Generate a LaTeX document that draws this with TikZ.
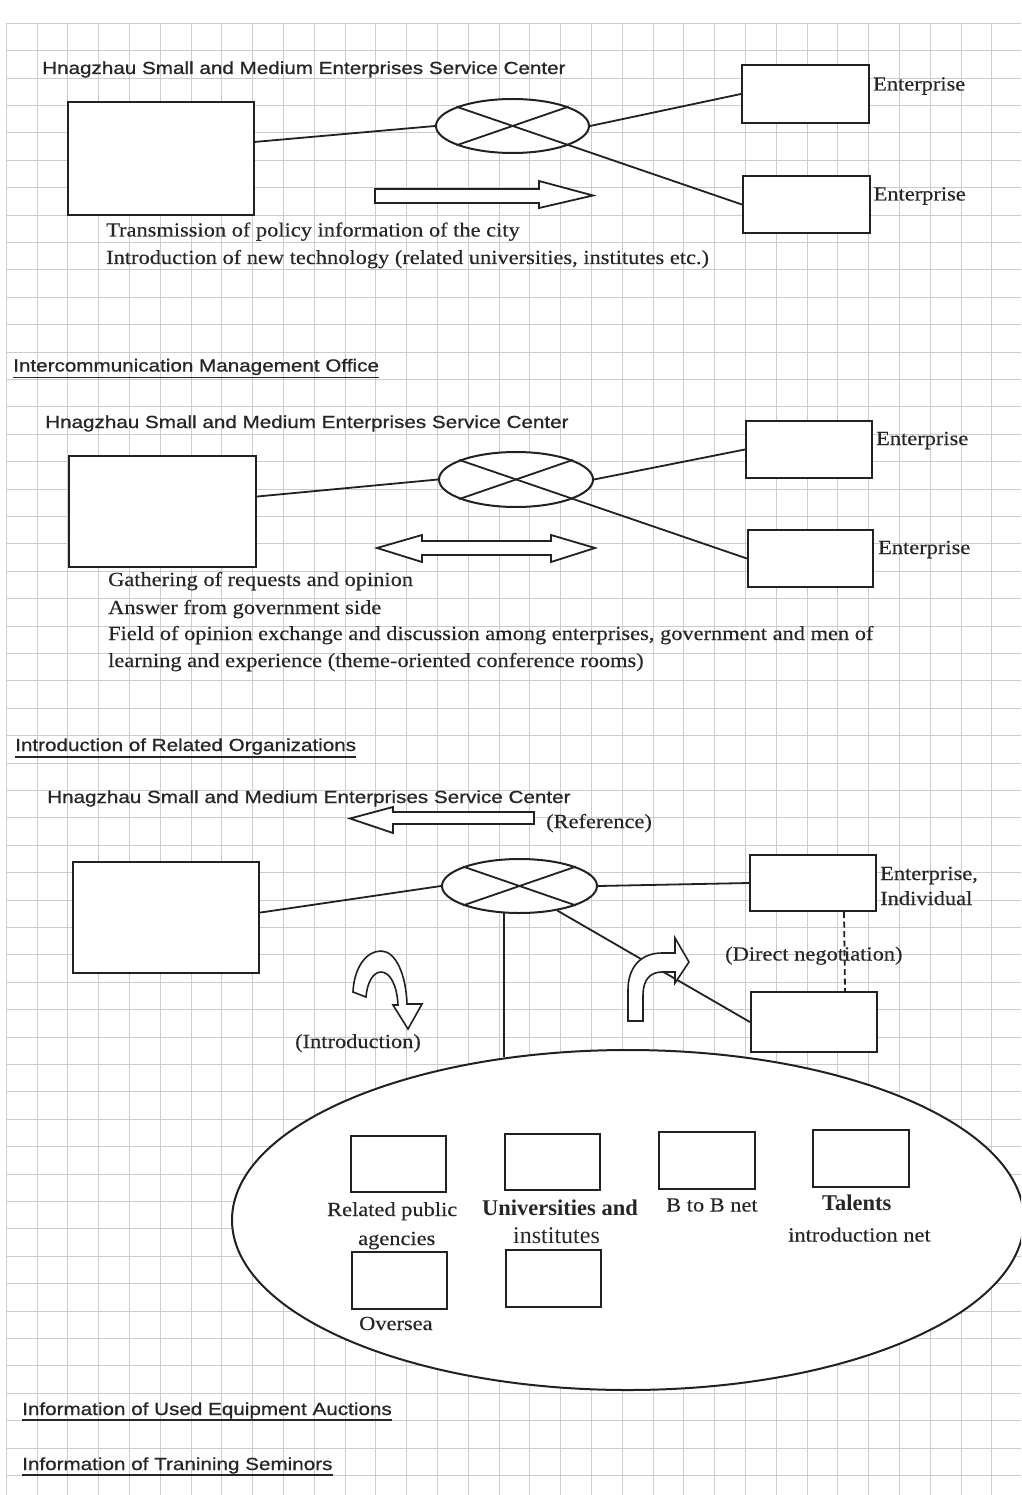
\documentclass[tikz,border=0pt]{standalone}
\usepackage{fontspec}
\setmainfont{Liberation Serif}
\newfontfamily\gothic[FakeStretch=1.18,FakeBold=0.8]{Liberation Sans}
\newfontfamily\mincho[FakeStretch=1.12,FakeBold=0.3]{Liberation Serif}
\newfontfamily\minchoB{Liberation Serif}
\usetikzlibrary{shapes.geometric,calc}
\definecolor{ink}{gray}{0.13}
\definecolor{txt}{gray}{0.15}
\definecolor{gridc}{gray}{0.8}
\begin{document}
\begin{tikzpicture}[x=1pt,y=-1pt,
  box/.style={draw=ink, line width=2.2pt, fill=white, rectangle, inner sep=0},
  ell/.style={draw=ink, line width=2pt, fill=white, ellipse, inner sep=0},
  conn/.style={draw=ink, line width=1.8pt},
  fat/.style={draw=ink, line width=1.8pt, fill=white, line join=miter},
  gt/.style={font=\gothic\fontsize{17.5}{20}\selectfont, text=txt, inner sep=0, anchor=base west},
  mt/.style={font=\mincho\fontsize{20}{24}\selectfont, text=txt, inner sep=0, anchor=base west},
  mtb/.style={font=\minchoB\bfseries\fontsize{22.5}{26}\selectfont, text=txt, inner sep=0, anchor=base west},
  mtl/.style={font=\minchoB\fontsize{24}{28}\selectfont, text=txt, inner sep=0, anchor=base west},
  ul/.style={draw=txt, line width=1.5pt},
  gline/.style={draw=gridc, line width=0.5pt}
]
\useasboundingbox (0,0) rectangle (1021,1495);
\clip (0,0) rectangle (1021,1495);
\fill[white] (0,0) rectangle (1021,1495);
% grid
\foreach \i in {0,...,33} \draw[gline] ({6+30.8*\i},23) -- ({6+30.8*\i},1495);
\foreach \j in {0,...,54} \draw[gline] (6,{23+27.4*\j}) -- (1021,{23+27.4*\j});

% ---------- Section 1 ----------
\node[gt] (t1) at (42,74) {Hnagzhau Small and Medium Enterprises Service Center};
\node[box, minimum width=186pt, minimum height=113pt] (b1) at (161,158.5) {};
\node[ell, minimum width=153pt, minimum height=54pt] (e1) at (512.5,126) {};
\node[box, minimum width=127pt, minimum height=58pt] (ent1) at (805.5,94) {};
\node[box, minimum width=127pt, minimum height=57pt] (ent2) at (806.5,204.5) {};
\node[mt] (lab1) at (873,90.5) {Enterprise};
\node[mt] (lab2) at (873.5,200.5) {Enterprise};
\draw[conn] (b1.10) -- (e1.west);
\draw[conn] (e1.east) -- (ent1.west);
\draw[conn] (e1.161) -- (ent2.west);
\draw[conn] (e1.-161) -- (e1.19);
\draw[fat] (375,189) -- (539,189) -- (539,181) -- (593,195.5) -- (539,208) -- (539,203) -- (375,203) -- cycle;
\node[mt] (tx1) at (106,236.5) {Transmission of policy information of the city};
\node[mt] (tx2) at (106,264) {Introduction of new technology (related universities, institutes etc.)};

% ---------- Section 2 ----------
\node[gt] (h1) at (13,371.5) {Intercommunication Management Office};
\draw[ul] ([yshift=-6pt]h1.base west) -- ([yshift=-6pt]h1.base east);
\node[gt] (t2) at (45,428) {Hnagzhau Small and Medium Enterprises Service Center};
\node[box, minimum width=187pt, minimum height=111pt] (b2) at (162.5,511.5) {};
\node[ell, minimum width=154pt, minimum height=55pt] (e2) at (516,479.5) {};
\node[box, minimum width=126pt, minimum height=57pt] (ent3) at (809,449.5) {};
\node[box, minimum width=125pt, minimum height=57pt] (ent4) at (810.5,558.5) {};
\node[mt] (lab3) at (876,445) {Enterprise};
\node[mt] (lab4) at (878,554) {Enterprise};
\draw[conn] (b2.9) -- (e2.west);
\draw[conn] (e2.east) -- (ent3.west);
\draw[conn] (e2.161) -- (ent4.west);
\draw[conn] (e2.-161) -- (e2.19);
\draw[fat] (377,548) -- (422,535) -- (422,541) -- (551,541) -- (551,535) -- (595,548) -- (551,562) -- (551,555) -- (422,555) -- (422,562) -- cycle;
\node[mt] (tx3) at (108,586) {Gathering of requests and opinion};
\node[mt] (tx4) at (108,614) {Answer from government side};
\node[mt] (tx5) at (108,640) {Field of opinion exchange and discussion among enterprises, government and men of};
\node[mt] (tx6) at (108,667) {learning and experience (theme-oriented conference rooms)};

% ---------- Section 3 ----------
\node[gt] (h2) at (15,751) {Introduction of Related Organizations};
\draw[ul] ([yshift=-6pt]h2.base west) -- ([yshift=-6pt]h2.base east);
\node[gt] (t3) at (47,803) {Hnagzhau Small and Medium Enterprises Service Center};
\draw[fat] (534,812) -- (534,824) -- (393,824) -- (393,833) -- (350,818.5) -- (393,807) -- (393,812) -- cycle;
\node[mt] (ref) at (546,828) {(Reference)};
\node[ell, minimum width=792pt, minimum height=340pt] (bigE) at (628,1220) {};
\node[box, minimum width=186pt, minimum height=111pt] (b3) at (166,917.5) {};
\node[ell, minimum width=155pt, minimum height=54pt] (e3) at (519.5,886) {};
\node[box, minimum width=126pt, minimum height=56pt] (ent5) at (813,883) {};
\node[box, minimum width=126pt, minimum height=60pt] (ent6) at (814,1022) {};
\node[mt] (lab5) at (880,880) {Enterprise,};
\node[mt] (lab6) at (880,905) {Individual};
\draw[conn] (b3.3) -- (e3.west);
\draw[conn] (e3.east) -- (ent5.west);
\draw[conn] (e3.161) -- (e3.-19);
\draw[conn] (e3.-161) -- (e3.19);
\draw[conn] (e3.-33) -- (ent6.west);
\coordinate (vt) at (e3.-120);
\coordinate (vb) at (504,1057);
\draw[conn] (vt) -- (vt |- vb);
\draw[conn, dash pattern=on 6pt off 3.5pt] ([xshift=31pt]ent5.south) -- ([xshift=31pt]ent6.north);
% curved arrows
\draw[fat, line width=1.6pt] (353,992) .. controls (354,968) and (366,951) .. (381,951) .. controls (396,951) and (406,975) .. (407,1004) -- (422,1004) -- (408,1029) -- (393,1005) -- (398,1005) .. controls (397,985) and (390,972) .. (381,972) .. controls (373,972) and (367,983) .. (366,997) -- cycle;
\draw[fat, line width=1.6pt] (628,1021) -- (628,990) .. controls (628,968) and (640,953) .. (662,953) -- (675,953) -- (675,938) -- (689,962) -- (675,983) -- (675,972) -- (662,972) .. controls (650,972) and (643,980) .. (643,995) -- (643,1021) -- cycle;
\node[mt] (dn) at (725,960.5) {(Direct negotiation)};
\node[mt] (intro) at (295,1048) {(Introduction)};
% inner boxes
\node[box, minimum width=95pt, minimum height=56pt] (ib1) at (398.5,1164) {};
\node[box, minimum width=95pt, minimum height=56pt] (ib2) at (552.5,1162) {};
\node[box, minimum width=96pt, minimum height=57pt] (ib3) at (707,1160.5) {};
\node[box, minimum width=96pt, minimum height=57pt] (ib4) at (861,1158.5) {};
\node[box, minimum width=95pt, minimum height=57pt] (ib5) at (399.5,1280.5) {};
\node[box, minimum width=95pt, minimum height=57pt] (ib6) at (553.5,1278.5) {};
\node[mt] (l1) at (327,1216) {Related public};
\node[mt] (l2) at (358,1245) {agencies};
\node[mtb] (l3) at (482,1215) {Universities and};
\node[mtl] (l4) at (513,1243) {institutes};
\node[mt] (l5) at (666,1211.5) {B to B net};
\node[mtb] (l6) at (822,1210) {Talents};
\node[mt] (l7) at (788,1241.5) {introduction net};
\node[mt] (l8) at (359,1330) {Oversea};

% ---------- Bottom ----------
\node[gt] (h3) at (22,1415) {Information of Used Equipment Auctions};
\draw[ul] ([yshift=-5pt]h3.base west) -- ([yshift=-5pt]h3.base east);
\node[gt] (h4) at (22,1470) {Information of Tranining Seminors};
\draw[ul] ([yshift=-5pt]h4.base west) -- ([yshift=-5pt]h4.base east);
\end{tikzpicture}
\end{document}
